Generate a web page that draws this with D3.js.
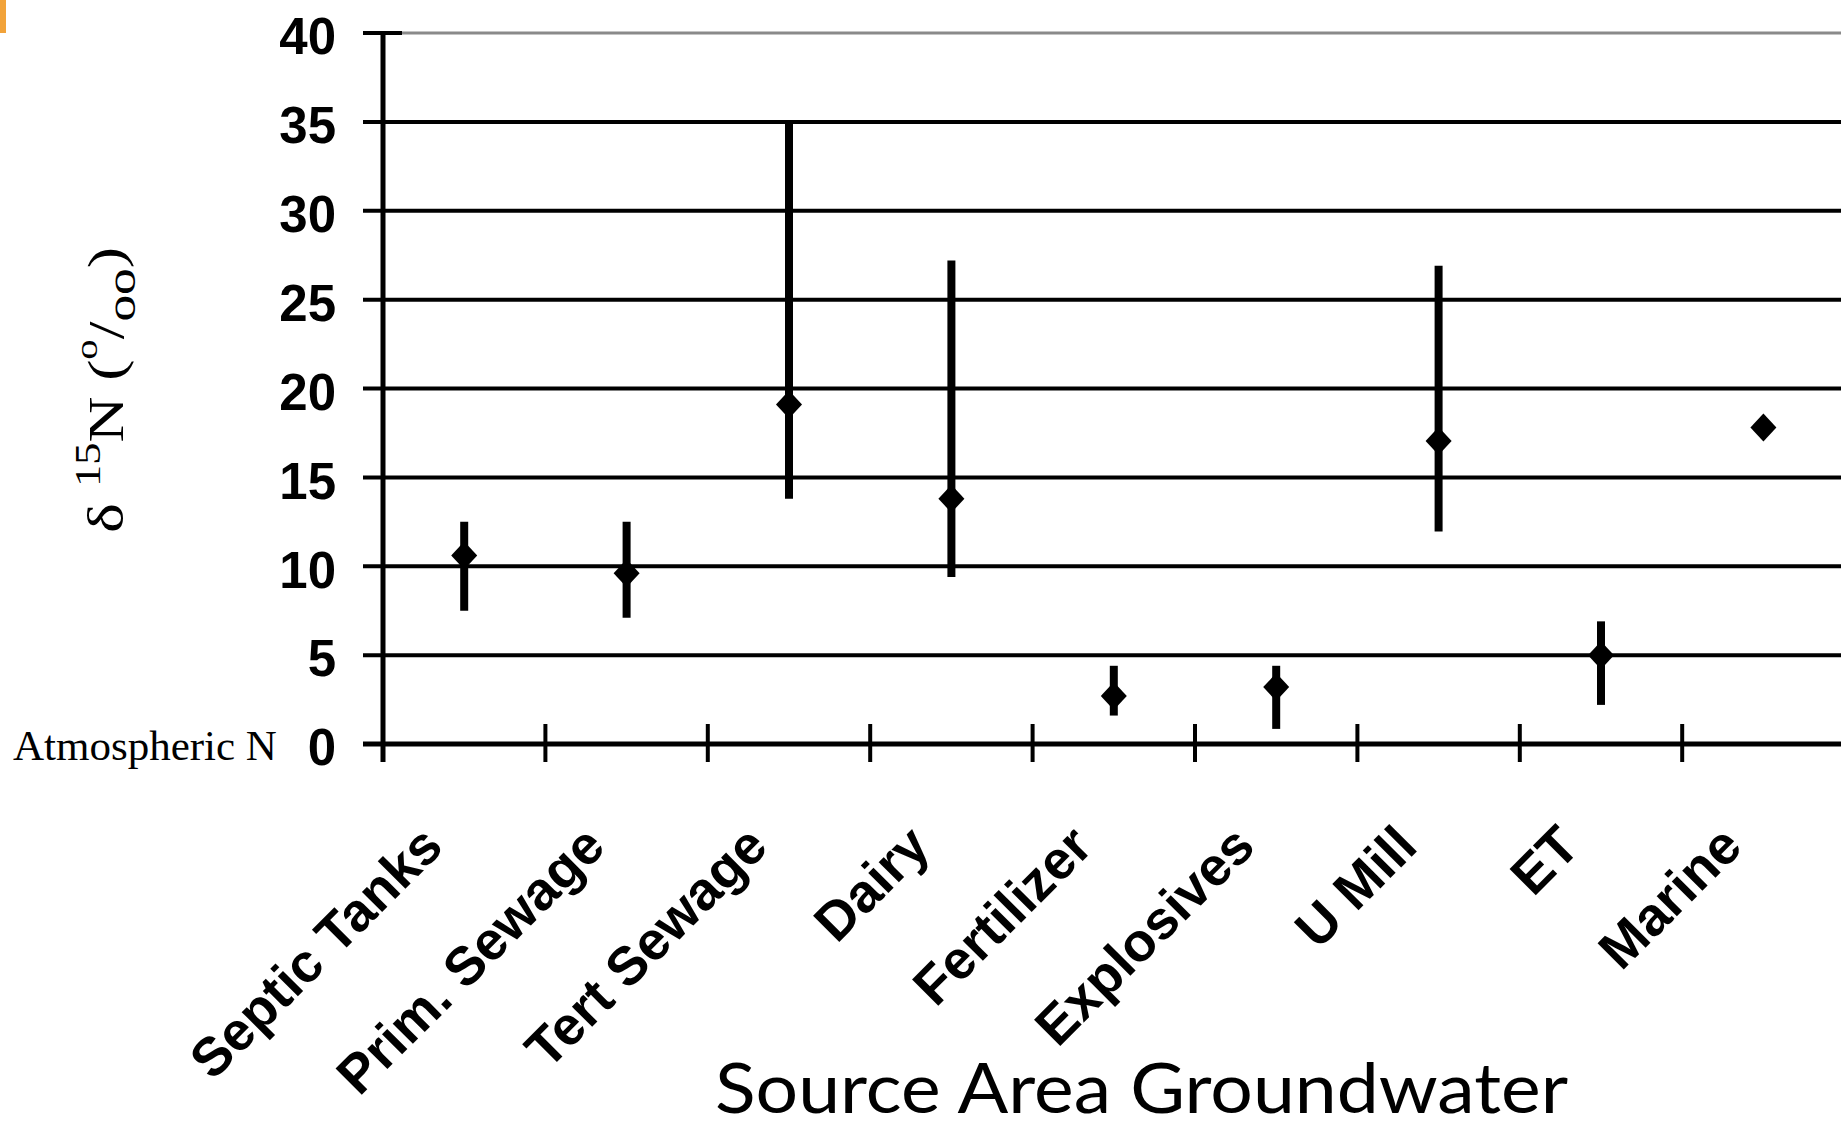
<!DOCTYPE html>
<html><head><meta charset="utf-8">
<script src="https://cdn.jsdelivr.net/npm/d3@7"></script>
<style>html,body{margin:0;padding:0;background:#fff;overflow:hidden}</style>
</head><body>
<svg id="chart" width="1841" height="1130"></svg>
<script>
// ---- data ----
const categories = ["Septic Tanks","Prim. Sewage","Tert Sewage","Dairy","Fertilizer","Explosives","U Mill","ET","Marine"];
const means = [10.6, 9.6, 19.1, 13.8, 2.7, 3.2, 17.05, 5.0, 17.8];
const lows  = [7.5, 7.1, 13.8, 9.4, 1.6, 0.85, 11.95, 2.2, null];
const highs = [12.5, 12.5, 35.0, 27.2, 4.4, 4.4, 26.9, 6.9, null];
const yTicks = [0,5,10,15,20,25,30,35,40];
const yTickLabels = ["0","5","10","15","20","25","30","35","40"];

const W = 1841, H = 1130;
const svg = d3.select("#chart");

// decorative slide mark
svg.append("rect").attr("x",0).attr("y",0).attr("width",6).attr("height",33).attr("fill","#f2a33a");

const x = d3.scaleBand().domain(categories).range([383, 1844.6]).padding(0);
const y = d3.scaleLinear().domain([0,40]).range([744,33]);
const bw = x.bandwidth();

// gridlines + y ticks
const grid = svg.append("g");
yTicks.forEach(v => {
  if (v === 0) return;
  if (v === 40) {
    grid.append("line").attr("x1",363).attr("x2",402).attr("y1",y(v)).attr("y2",y(v))
      .attr("stroke","#000").attr("stroke-width",4);
    grid.append("line").attr("x1",402).attr("x2",W).attr("y1",y(v)).attr("y2",y(v))
      .attr("stroke","#8a8a8a").attr("stroke-width",3);
  } else {
    grid.append("line").attr("x1",363).attr("x2",W).attr("y1",y(v)).attr("y2",y(v))
      .attr("stroke","#000").attr("stroke-width",4);
  }
});

// x axis line (zero)
svg.append("line").attr("x1",363).attr("x2",W).attr("y1",y(0)).attr("y2",y(0))
  .attr("stroke","#000").attr("stroke-width",5);
// y axis line
svg.append("line").attr("x1",383).attr("x2",383).attr("y1",y(40)-2).attr("y2",762)
  .attr("stroke","#000").attr("stroke-width",5);

// x ticks at band boundaries
svg.append("g").selectAll("line").data(categories.slice(1)).join("line")
  .attr("x1", d => x(d)).attr("x2", d => x(d))
  .attr("y1", 724).attr("y2", 762)
  .attr("stroke","#000").attr("stroke-width",4);

// y tick labels
svg.append("g").selectAll("text").data(yTicks).join("text")
  .attr("x", 336).attr("y", d => y(d) + 3).attr("dy","0.36em")
  .attr("text-anchor","end")
  .attr("font-family","Liberation Sans, Arial, sans-serif")
  .attr("font-weight","bold").attr("font-size",51)
  .text((d,i) => yTickLabels[i]);

// Atmospheric N
svg.append("text").attr("x",13).attr("y",760)
  .attr("font-family","Liberation Serif, Times New Roman, serif")
  .attr("font-size",43).text("Atmospheric N");

// category labels
svg.append("g").selectAll("text").data(categories).join("text")
  .attr("transform", d => `translate(${x(d)+bw/2-19},849) rotate(-45)`)
  .attr("text-anchor","end")
  .attr("font-family","Liberation Sans, Arial, sans-serif")
  .attr("font-weight","bold").attr("font-size",54)
  .text(d => d);

// error bars
const data = categories.map((c,i) => ({c, m: means[i], lo: lows[i], hi: highs[i]}));
svg.append("g").selectAll("line").data(data.filter(d => d.lo != null)).join("line")
  .attr("x1", d => x(d.c)+bw/2).attr("x2", d => x(d.c)+bw/2)
  .attr("y1", d => y(d.lo)).attr("y2", d => y(d.hi))
  .attr("stroke","#000").attr("stroke-width",8);

// diamonds
svg.append("g").selectAll("path").data(data).join("path")
  .attr("d", d => {
    const cx = x(d.c)+bw/2, cy = y(d.m), hw = 13, hh = 14;
    return `M${cx},${cy-hh}L${cx+hw},${cy}L${cx},${cy+hh}L${cx-hw},${cy}Z`;
  })
  .attr("fill","#000");

// y axis title
const yt = svg.append("text")
  .attr("transform","translate(123,390) rotate(-90)")
  .attr("text-anchor","middle")
  .attr("font-family","Liberation Serif, Times New Roman, serif")
  .attr("font-size",50)
  .attr("textLength",286).attr("lengthAdjust","spacingAndGlyphs");
yt.append("tspan").text("δ ");
yt.append("tspan").attr("font-size",35).attr("dy",-23).text("15");
yt.append("tspan").attr("dy",23).text("N (");
yt.append("tspan").attr("font-size",32).attr("dy",-26).text("o");
yt.append("tspan").attr("dy",26).text("/");
yt.append("tspan").attr("font-size",42).attr("dy",12).text("oo");
yt.append("tspan").attr("dy",-12).text(")");

// x axis title
svg.append("text").attr("x",715).attr("y",1113)
  .attr("font-family","Lato, Open Sans, sans-serif")
  .attr("font-size",70)
  .attr("textLength",853).attr("lengthAdjust","spacingAndGlyphs")
  .text("Source Area Groundwater");
</script>
</body></html>
